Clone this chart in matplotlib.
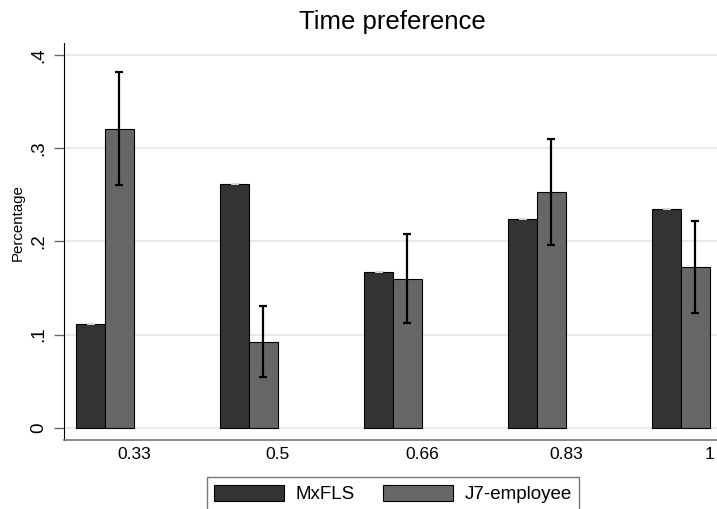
import numpy as np
import matplotlib
matplotlib.use('Agg')
import matplotlib.pyplot as plt

plt.rcParams['font.family'] = ['Liberation Sans', 'DejaVu Sans']

# data
categories = ['0.33', '0.5', '0.66', '0.83', '1']
mxfls = [0.111, 0.2615, 0.1675, 0.224, 0.235]
j7 = [0.3205, 0.0925, 0.160, 0.2533, 0.173]
j7_lo = [0.260, 0.0547, 0.1129, 0.196, 0.1235]
j7_hi = [0.381, 0.1304, 0.208, 0.3094, 0.222]

W, H = 717, 509
fig = plt.figure(figsize=(W / 100, H / 100), dpi=100)
ax = fig.add_axes([64 / W, 1 - 440 / H, 1 - 64 / W, (440 - 43) / H])

x = np.arange(len(categories))
bw = 0.2
ax.bar(x - bw / 2, mxfls, bw, color='#333333', edgecolor='black', linewidth=0.8,
       label='MxFLS', zorder=3)
ax.bar(x + bw / 2, j7, bw, color='#676767', edgecolor='black', linewidth=0.8,
       label='J7-employee', zorder=3)

# confidence intervals
yerr = [np.array(j7) - np.array(j7_lo), np.array(j7_hi) - np.array(j7)]
ax.errorbar(x + bw / 2, j7, yerr=yerr, fmt='none', ecolor='black', elinewidth=1.6,
            capsize=3, capthick=1.6, zorder=4)
# tiny (near zero) CI caps on the MxFLS bars
ax.errorbar(x - bw / 2, mxfls, yerr=0, fmt='none', ecolor='#d8d8d8', elinewidth=1,
            capsize=3, capthick=1.2, zorder=4)

ax.set_xlim(-0.285, 4.25)
ax.set_ylim(-0.0129, 0.4126)
ax.set_xticks(x + bw)
ax.set_xticklabels(categories, fontsize=12.5)
ax.tick_params(axis='x', length=0, pad=5)
ax.set_yticks([0, 0.1, 0.2, 0.3, 0.4])
ax.set_yticklabels(['0', '.1', '.2', '.3', '.4'], fontsize=13.5, rotation=90, va='center')
ax.tick_params(axis='y', length=7, width=1, color='#666666', pad=5)
ax.yaxis.grid(True, color='#e6e6e6', linewidth=1.2, zorder=0)
ax.set_axisbelow(True)

for s in ['top', 'right']:
    ax.spines[s].set_visible(False)
ax.spines['left'].set_color('black')
ax.spines['bottom'].set_color('#777777')
ax.spines['bottom'].set_linewidth(1.2)

fig.text(18 / W, 1 - 223 / H, 'Percentage', rotation=90, ha='center', va='center',
         fontsize=10.8)
fig.text(392 / W, 1 - 29 / H, 'Time preference', ha='center', va='baseline',
         fontsize=18.5)

leg = fig.legend(loc='lower center', bbox_to_anchor=(393 / W, -0.022), ncol=2,
                 fontsize=13.5, frameon=True, fancybox=False, handlelength=3.75,
                 handleheight=1.0, handletextpad=0.6, columnspacing=1.5,
                 borderpad=0.4, edgecolor='#555555')
leg.get_frame().set_linewidth(1.0)

fig.savefig('out.png', dpi=100, facecolor='white')
